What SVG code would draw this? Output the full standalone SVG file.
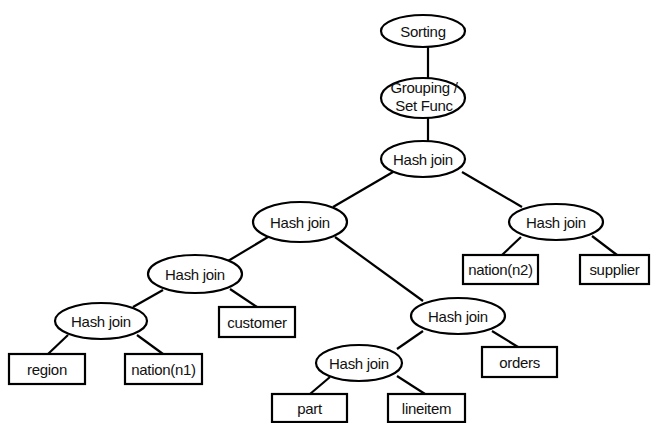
<svg xmlns="http://www.w3.org/2000/svg" width="652" height="423" viewBox="0 0 652 423">
<style>
.n{fill:#fff;stroke:#000;stroke-width:2.2}
.c line{stroke:#000;stroke-width:2.2}
text{font-family:"Liberation Sans",Arial,sans-serif;font-size:15px;letter-spacing:-0.3px;fill:#111;text-anchor:middle;dominant-baseline:central}
</style>
<rect width="652" height="423" fill="#fff"/>
<g class="c" id="connectors">
<line x1="428" y1="46" x2="428" y2="79"/>
<line x1="428" y1="117" x2="428" y2="142"/>
<line x1="393" y1="172" x2="333" y2="207"/>
<line x1="462" y1="172" x2="522" y2="207"/>
<line x1="521" y1="237" x2="502" y2="255"/>
<line x1="592" y1="236" x2="617" y2="255"/>
<line x1="268" y1="237" x2="228" y2="261"/>
<line x1="335" y1="237" x2="423" y2="301"/>
<line x1="230" y1="289" x2="257" y2="307"/>
<line x1="163" y1="290" x2="133" y2="307"/>
<line x1="68" y1="335" x2="48" y2="354"/>
<line x1="137" y1="335" x2="163" y2="354"/>
<line x1="492" y1="331" x2="518" y2="347"/>
<line x1="423" y1="331" x2="397" y2="349"/>
<line x1="330" y1="377" x2="310" y2="394"/>
<line x1="397" y1="376" x2="425" y2="394"/>
</g>
<g id="sorting"><ellipse class="n" cx="423" cy="31" rx="42" ry="16"/><text x="423" y="31">Sorting</text></g>
<g id="grouping"><ellipse class="n" cx="423" cy="98" rx="42" ry="20"/><text x="424" y="87">Grouping /</text><text x="424" y="105">Set Func</text></g>
<g id="hj1"><ellipse class="n" cx="423" cy="159" rx="42" ry="18"/><text x="423" y="159">Hash join</text></g>
<g id="hj2"><ellipse class="n" cx="300" cy="222" rx="47" ry="20"/><text x="300" y="222">Hash join</text></g>
<g id="hj3"><ellipse class="n" cx="556" cy="222" rx="47" ry="18"/><text x="556" y="222">Hash join</text></g>
<g id="hj4"><ellipse class="n" cx="195" cy="274" rx="47" ry="19"/><text x="195" y="274">Hash join</text></g>
<g id="hj5"><ellipse class="n" cx="101" cy="321" rx="46" ry="18"/><text x="101" y="321">Hash join</text></g>
<g id="hj6"><ellipse class="n" cx="458" cy="316" rx="47" ry="18"/><text x="458" y="316">Hash join</text></g>
<g id="hj7"><ellipse class="n" cx="359" cy="363" rx="43" ry="18"/><text x="359" y="363">Hash join</text></g>
<g id="nation_n2"><rect class="n" x="463" y="255" width="75" height="29"/><text x="500.5" y="269.5">nation(n2)</text></g>
<g id="supplier"><rect class="n" x="580" y="255" width="69" height="29"/><text x="614.5" y="269.5">supplier</text></g>
<g id="customer"><rect class="n" x="219" y="307" width="76" height="30"/><text x="257" y="322">customer</text></g>
<g id="region"><rect class="n" x="9" y="354" width="76" height="30"/><text x="47" y="369">region</text></g>
<g id="nation_n1"><rect class="n" x="125" y="354" width="77" height="30"/><text x="163.5" y="369">nation(n1)</text></g>
<g id="orders"><rect class="n" x="482" y="347" width="75" height="30"/><text x="519.5" y="362">orders</text></g>
<g id="part"><rect class="n" x="272" y="394" width="75" height="28"/><text x="309.5" y="408">part</text></g>
<g id="lineitem"><rect class="n" x="388" y="394" width="77" height="28"/><text x="426.5" y="408">lineitem</text></g>
</svg>
